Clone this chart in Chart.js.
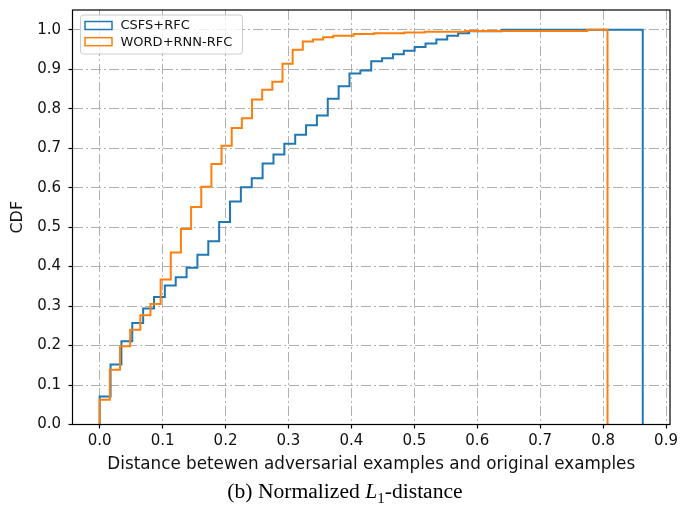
<!DOCTYPE html>
<html>
<head>
<meta charset="utf-8">
<script src="https://cdn.jsdelivr.net/npm/chart.js@4.4.0/dist/chart.umd.min.js"></script>
<style>
body { margin: 0; background: #fff; }
#wrap { position: relative; width: 688px; height: 512px; }
#caption { position: absolute; left: 0; width: 690px; top: 480px; text-align: center;
  font-family: "Liberation Serif", "Times New Roman", serif; font-size: 21.6px; color: #000; line-height: 22px; }
#caption sub { font-size: 15px; line-height: 0; }
</style>
</head>
<body>
<div id="wrap">
<canvas id="chart" width="688" height="512"></canvas>
<div id="caption">(b) Normalized <i>L</i><sub>1</sub>-distance</div>
</div>
<script>
// histogram settings (50 bins from 0 to max distance)
var bins = 50;
var csfsMax = 0.863;
var wordMax = 0.807;

// cumulative values per bin
var csfsCdf = [0.071, 0.152, 0.211, 0.257, 0.294, 0.323, 0.352, 0.373, 0.397, 0.430,
               0.464, 0.513, 0.565, 0.601, 0.624, 0.661, 0.684, 0.711, 0.734, 0.758,
               0.783, 0.825, 0.857, 0.889, 0.897, 0.920, 0.928, 0.938, 0.947, 0.956,
               0.965, 0.975, 0.985, 0.991, 0.996, 0.996, 0.996, 1.0, 1.0, 1.0,
               1.0, 1.0, 1.0, 1.0, 1.0, 1.0, 1.0, 1.0, 1.0, 1.0];
var wordCdf = [0.063, 0.139, 0.198, 0.240, 0.277, 0.305, 0.367, 0.436, 0.495, 0.551,
               0.602, 0.660, 0.706, 0.751, 0.776, 0.823, 0.848, 0.868, 0.914, 0.949,
               0.970, 0.975, 0.981, 0.985, 0.985, 0.989, 0.989, 0.991, 0.991, 0.991,
               0.993, 0.993, 0.995, 0.995, 0.995, 0.995, 0.997, 0.997, 0.997, 0.997,
               0.997, 0.997, 0.997, 0.997, 0.997, 0.997, 0.997, 0.997, 1.0, 1.0];

var seriesNames = ['CSFS+RFC', 'WORD+RNN-RFC'];
var seriesColors = ['#1f77b4', '#ff7f0e'];

var xTicks = [0.0, 0.1, 0.2, 0.3, 0.4, 0.5, 0.6, 0.7, 0.8, 0.9];
var yTicks = [0.0, 0.1, 0.2, 0.3, 0.4, 0.5, 0.6, 0.7, 0.8, 0.9, 1.0];

// outline of a cumulative step histogram
function stepPoints(cdf, maxVal) {
    var w = maxVal / cdf.length;
    var pts = [{x: 0, y: 0}];
    for (var i = 0; i < cdf.length; i++) {
        pts.push({x: i * w, y: cdf[i]});
    }
    pts.push({x: maxVal, y: cdf[cdf.length - 1]});
    pts.push({x: maxVal, y: 0});
    return pts;
}

function setTicks(list) {
    return function (scale) {
        scale.ticks = list.map(function (v) { return {value: v}; });
    };
}

var frame = {
    id: 'frame',
    afterDraw: function (chart) {
        var a = chart.chartArea, ctx = chart.ctx;
        ctx.save();
        ctx.strokeStyle = '#000';
        ctx.lineWidth = 1.2;
        ctx.strokeRect(a.left, a.top, a.right - a.left, a.bottom - a.top);
        ctx.restore();
    }
};

var legendBox = {
    id: 'legendBox',
    afterDraw: function (chart) {
        var a = chart.chartArea, ctx = chart.ctx;
        var x = a.left + 8, y = a.top + 5, w = 162, h = 39, r = 3;
        ctx.save();
        ctx.beginPath();
        ctx.moveTo(x + r, y);
        ctx.arcTo(x + w, y, x + w, y + h, r);
        ctx.arcTo(x + w, y + h, x, y + h, r);
        ctx.arcTo(x, y + h, x, y, r);
        ctx.arcTo(x, y, x + w, y, r);
        ctx.closePath();
        ctx.fillStyle = 'rgba(255,255,255,0.8)';
        ctx.fill();
        ctx.strokeStyle = '#cccccc';
        ctx.lineWidth = 1;
        ctx.stroke();
        chart.data.datasets.forEach(function (ds, i) {
            var cy = y + 10.5 + i * 16.2;
            ctx.strokeStyle = ds.borderColor;
            ctx.lineWidth = 1.5;
            ctx.strokeRect(x + 4.5, cy - 4, 27, 8);
            ctx.fillStyle = '#111';
            ctx.font = '13px "DejaVu Sans"';
            ctx.textBaseline = 'middle';
            ctx.fillText(ds.label, x + 40, cy + 0.5);
        });
        ctx.restore();
    }
};

var gridOpts = {
    color: '#b0b0b0',
    lineWidth: 1,
    tickColor: '#000',
    tickWidth: 1.2,
    tickLength: 4
};

new Chart(document.getElementById('chart'), {
    type: 'line',
    data: {
        datasets: [
            {label: seriesNames[0], data: stepPoints(csfsCdf, csfsMax), borderColor: seriesColors[0],
             backgroundColor: 'rgba(0,0,0,0)', order: 1},
            {label: seriesNames[1], data: stepPoints(wordCdf, wordMax), borderColor: seriesColors[1],
             backgroundColor: 'rgba(0,0,0,0)', order: 0}
        ]
    },
    options: {
        responsive: false,
        animation: false,
        layout: {padding: {left: 0, right: 18, top: 10, bottom: 37}},
        elements: {
            line: {borderWidth: 2, stepped: true, tension: 0, fill: false},
            point: {radius: 0}
        },
        plugins: {legend: {display: false}, tooltip: {enabled: false}},
        scales: {
            x: {
                type: 'linear',
                min: -0.0432,
                max: 0.9063,
                afterBuildTicks: setTicks(xTicks),
                afterFit: function (scale) {
                    scale.height = 50.5;
                    scale.paddingLeft = 0;
                    scale.paddingRight = 0;
                },
                grid: gridOpts,
                border: {display: false, dash: [10, 3, 2, 3]},
                ticks: {
                    color: '#111',
                    padding: 4,
                    maxRotation: 0,
                    autoSkip: false,
                    font: {family: 'DejaVu Sans', size: 15},
                    callback: function (v) { return v.toFixed(1); }
                },
                title: {
                    display: true,
                    text: 'Distance betewen adversarial examples and original examples',
                    color: '#111',
                    padding: 0,
                    font: {family: 'DejaVu Sans', size: 16.8}
                }
            },
            y: {
                type: 'linear',
                min: 0,
                max: 1.05,
                afterBuildTicks: setTicks(yTicks),
                afterFit: function (scale) {
                    scale.width = 72.5;
                    scale.paddingTop = 0;
                    scale.paddingBottom = 0;
                },
                grid: gridOpts,
                border: {display: false, dash: [10, 3, 2, 3]},
                ticks: {
                    color: '#111',
                    padding: 7.5,
                    autoSkip: false,
                    font: {family: 'DejaVu Sans', size: 15},
                    callback: function (v) { return v.toFixed(1); }
                },
                title: {
                    display: true,
                    text: 'CDF',
                    color: '#111',
                    padding: {top: 8, bottom: 0},
                    font: {family: 'DejaVu Sans', size: 16}
                }
            }
        }
    },
    plugins: [frame, legendBox]
});
</script>
</body>
</html>
